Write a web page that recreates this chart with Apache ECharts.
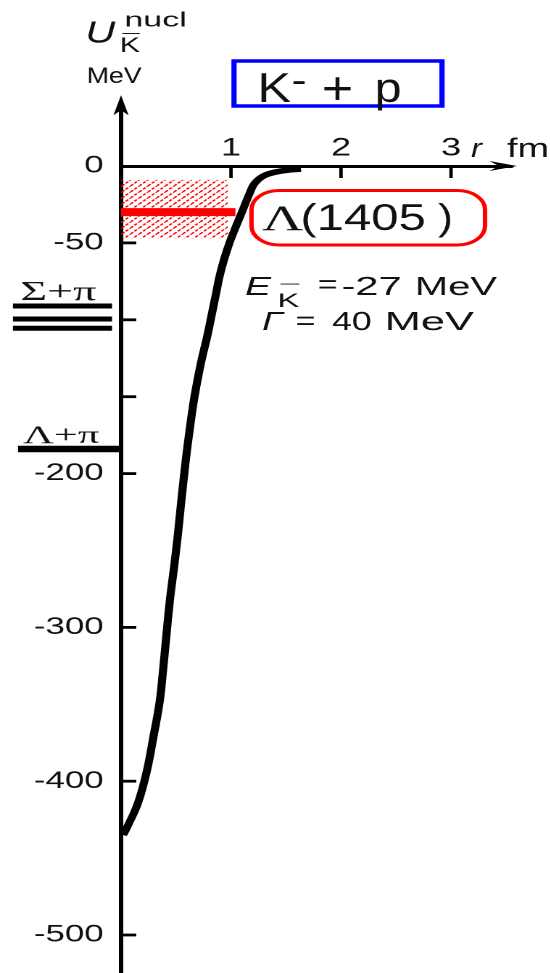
<!DOCTYPE html>
<html><head><meta charset="utf-8">
<script src="https://cdn.jsdelivr.net/npm/echarts@6/dist/echarts.min.js"></script>
<style>
html,body{margin:0;padding:0;background:#fff;overflow:hidden;width:550px;height:973px;}
#chart{height:973px;transform-origin:0 0;}
</style></head><body>
<div id="chart"></div>
<script>
// ---------------- data ----------------
const rValues = [0.018, 0.055, 0.155, 0.236, 0.295, 0.35, 0.382, 0.414, 0.445, 0.482, 0.518, 0.545, 0.586, 0.623, 0.668, 0.727, 0.786, 0.832, 0.864, 0.895, 0.936, 0.986, 1.041, 1.105, 1.168, 1.218, 1.309, 1.455, 1.636];
const uValues = [-435, -430, -414, -393, -371, -349, -328, -304, -282, -261, -239, -220, -193, -172, -150, -128, -110, -94, -83, -72, -61, -50, -40, -29, -18, -11, -6, -3.3, -2];
const xTickValues = [1, 2, 3];
const xTickLabels = ['1', '2', '3'];
const yTickValues = [-50, -100, -150, -200, -300, -400, -500];
const yTickLabelValues = [0, -50, -200, -300, -400, -500];
const sigmaPiLevels = [-91, -99.5, -105.5];
const lambdaPiLevels = [-184];
const resonanceLevel = -30;
const resonanceBand = [-9, -47];
const resonanceBandR = [0, 0.97];
const resonanceLineR = [0, 1.04];
const xRange = [0, 3.55];
const yRange = [-550, 42];
const xArrowTip = 3.6;
const yArrowTip = 46;

// ---------------- layout ----------------
const S = 1.45;               // horizontal stretch of the figure
const W = 550 / S;
const X0 = 121, PXR = 110;    // screen px of r=0 and px per fm
const Y0 = 166, PXU = 1.538;  // screen px of U=0 and px per MeV
const SANS = 'Liberation Sans', SERIF = 'Liberation Serif';
const INK = '#111';

const el = document.getElementById('chart');
el.style.width = W + 'px';
el.style.transform = 'scaleX(' + S + ')';

const gridLeft = X0 / S;
const gridWidth = (xRange[1] - xRange[0]) * PXR / S;
const gridTop = Y0 - yRange[1] * PXU;
const gridBottomEdge = Y0 - yRange[0] * PXU;
const gridHeight = gridBottomEdge - gridTop;

// hatch pattern
const pc = document.createElement('canvas'); pc.width = 12; pc.height = 12;
const g = pc.getContext('2d');
g.strokeStyle = 'rgba(255,0,0,1)'; g.lineWidth = 2.6; g.setLineDash([5, 2.5]);
for (const k of [-12, 0, 12]) { g.beginPath(); g.moveTo(k, 12); g.lineTo(k + 12, 0); g.stroke(); }
const hatch = { image: pc, repeat: 'repeat', scaleX: 0.5, scaleY: 0.5 };

// text helper (screen coords -> container coords)
const mctx = document.createElement('canvas').getContext('2d');
function txt(str, xs, ys, w, size, fam, italic, mode) {
  const fs = italic ? 'italic' : 'normal';
  mctx.font = fs + ' normal ' + size + 'px ' + fam;
  mctx.textBaseline = 'alphabetic';
  const m = mctx.measureText(str);
  const inkW = m.actualBoundingBoxLeft + m.actualBoundingBoxRight;
  const sx = (w / S) / inkW;
  let base = ys;
  if (mode === 'mid') base = ys + (m.actualBoundingBoxAscent - m.actualBoundingBoxDescent) / 2;
  mctx.textBaseline = 'middle';
  const d = mctx.measureText('H').actualBoundingBoxDescent;
  return {
    type: 'text', silent: true, z: 20,
    x: xs / S + sx * m.actualBoundingBoxLeft, y: base - d, scaleX: sx,
    style: { text: str, x: 0, y: 0, fill: INK, fontSize: size, fontFamily: fam,
             fontStyle: fs, align: 'left', verticalAlign: 'middle' }
  };
}

const texts = [
  txt('U', 88, 42.5, 28, 31, SANS, true),
  txt('nucl', 126, 26.5, 60, 20, SANS),
  txt('K', 121, 52, 19, 21, SANS),
  txt('\u00AF', 121, 34.5, 19, 21, SANS, false, 'mid'),
  txt('MeV', 88, 83, 54, 22, SANS),
  txt('K', 261, 102, 30, 42, SANS),
  txt('\u2212', 293, 83, 12, 40, SANS, false, 'mid'),
  txt('+', 324, 88.5, 27, 46, SANS, false, 'mid'),
  txt('p', 377, 102, 23, 42, SANS),
  txt('\u039B', 262, 230, 41, 36, SERIF),
  txt('(1405', 303, 230, 122, 37, SANS),
  txt(')', 438, 230, 13.3, 37, SANS),
  txt('E', 245, 295, 27, 26, SANS, true),
  txt('K', 279, 307, 21, 19, SANS),
  txt('\u00AF', 279, 285, 21, 19, SANS, false, 'mid'),
  txt('=', 319, 285, 17, 26, SANS, false, 'mid'),
  txt('-27', 343, 295, 58, 26, SANS),
  txt('MeV', 418, 295, 80, 26, SANS),
  txt('\u0393', 262, 330, 23, 26, SANS, true),
  txt('=', 297, 321.5, 17, 26, SANS, false, 'mid'),
  txt('40', 332, 330, 39, 26, SANS),
  txt('MeV', 388, 330, 87, 26, SANS),
  txt('\u03A3+\u03C0', 22, 300, 75, 27, SERIF),
  txt('\u039B+\u03C0', 23, 443, 77, 25, SERIF),
  txt('r', 471, 157, 12, 27, SANS, true),
  txt('fm', 507, 157, 40, 27, SANS)
];

const boxes = [
  { type: 'rect', silent: true, z: 15,
    shape: { x: 234 / S, y: 61, width: (442 - 234) / S, height: 45 },
    style: { fill: 'rgba(0,0,0,0)', stroke: '#0000ff', lineWidth: 3.6 } },
  { type: 'rect', silent: true, z: 15,
    shape: { x: 251.5 / S, y: 190.5, width: (485 - 251.5) / S, height: 54.5, r: 19 },
    style: { fill: '#fff', stroke: '#ff0000', lineWidth: 3 } }
];

const chart = echarts.init(el, null, { renderer: 'canvas', devicePixelRatio: 2 });

function hLevels(rr, width) {
  return function (params, api) {
    const u = api.value(0);
    const a = api.coord([rr[0], u]), b = api.coord([rr[1], u]);
    return { type: 'line', shape: { x1: a[0], y1: a[1], x2: b[0], y2: b[1] },
             style: { stroke: '#000', lineWidth: width } };
  };
}

chart.setOption({
  animation: false,
  backgroundColor: '#fff',
  grid: { left: gridLeft, width: gridWidth, top: gridTop, height: gridHeight,
          outerBoundsMode: 'none', containLabel: false },
  xAxis: {
    type: 'value', min: xRange[0], max: xRange[1], interval: 1,
    position: 'bottom', offset: -(gridBottomEdge - Y0),
    axisLine: { show: true, onZero: false, lineStyle: { color: '#000', width: 3 } },
    axisTick: { show: false }, splitLine: { show: false },
    axisLabel: {
      inside: true, margin: 5, fontSize: 25, fontFamily: SANS, color: INK,
      formatter: v => { const i = xTickValues.indexOf(v); return i >= 0 ? xTickLabels[i] : ''; }
    }
  },
  yAxis: {
    type: 'value', min: yRange[0], max: yRange[1], interval: 50,
    axisLine: { show: true, onZero: false, lineStyle: { color: '#000', width: 3 } },
    axisTick: { show: false }, splitLine: { show: false },
    axisLabel: {
      margin: 12, fontSize: 24, fontFamily: SANS, color: INK,
      formatter: v => yTickLabelValues.indexOf(v) >= 0 ? String(v) : ''
    }
  },
  graphic: boxes.concat(texts),
  series: [
    { type: 'custom', name: 'width band', z: 1, clip: false,
      data: [[resonanceBandR[0], resonanceBandR[1], resonanceBand[0], resonanceBand[1]]],
      renderItem: (params, api) => {
        const p1 = api.coord([api.value(0), api.value(2)]);
        const p2 = api.coord([api.value(1), api.value(3)]);
        return { type: 'rect', shape: { x: p1[0], y: p1[1], width: p2[0] - p1[0], height: p2[1] - p1[1] },
                 style: { fill: hatch } };
      } },
    { type: 'line', name: 'Lambda(1405)', z: 2, symbol: 'none',
      data: resonanceLineR.map(r => [r, resonanceLevel]),
      lineStyle: { color: '#ff0000', width: 8, cap: 'butt' } },
    { type: 'line', name: 'U', z: 4, symbol: 'none', smooth: 0.4,
      data: rValues.map((r, i) => [r, uValues[i]]),
      lineStyle: { color: '#000', width: 5.6, join: 'round' } },
    { type: 'custom', name: 'Sigma+pi', z: 3, clip: false,
      data: sigmaPiLevels.map(u => [u]), renderItem: hLevels([-0.982, -0.082], 5) },
    { type: 'custom', name: 'Lambda+pi', z: 3, clip: false,
      data: lambdaPiLevels.map(u => [u]), renderItem: hLevels([-0.936, -0.01], 6.5) },
    { type: 'custom', name: 'x ticks', z: 5, clip: false,
      data: xTickValues.map(v => [v, 0]),
      renderItem: (params, api) => {
        const p = api.coord([api.value(0), api.value(1)]);
        return { type: 'line', shape: { x1: p[0], y1: p[1], x2: p[0], y2: p[1] + 12 },
                 style: { stroke: '#000', lineWidth: 2.4 } };
      } },
    { type: 'custom', name: 'y ticks', z: 5, clip: false,
      data: yTickValues.map(v => [0, v]),
      renderItem: (params, api) => {
        const p = api.coord([api.value(0), api.value(1)]);
        return { type: 'line', shape: { x1: p[0] - 1, y1: p[1], x2: p[0] + 10.5, y2: p[1] },
                 style: { stroke: '#000', lineWidth: 2.8 } };
      } },
    { type: 'custom', name: 'arrows', z: 6, clip: false,
      data: [[xArrowTip, 0, 0], [0, yArrowTip, 1]],
      renderItem: (params, api) => {
        const t = api.coord([api.value(0), api.value(1)]);
        const pts = api.value(2) === 0
          ? [[t[0], t[1]], [t[0] - 19, t[1] - 5], [t[0] - 12.5, t[1]], [t[0] - 19, t[1] + 5]]
          : [[t[0], t[1]], [t[0] - 5.2, t[1] + 20], [t[0], t[1] + 15], [t[0] + 5.2, t[1] + 20]];
        return { type: 'polygon', shape: { points: pts }, style: { fill: '#000' } };
      } }
  ]
});
</script>
</body></html>
